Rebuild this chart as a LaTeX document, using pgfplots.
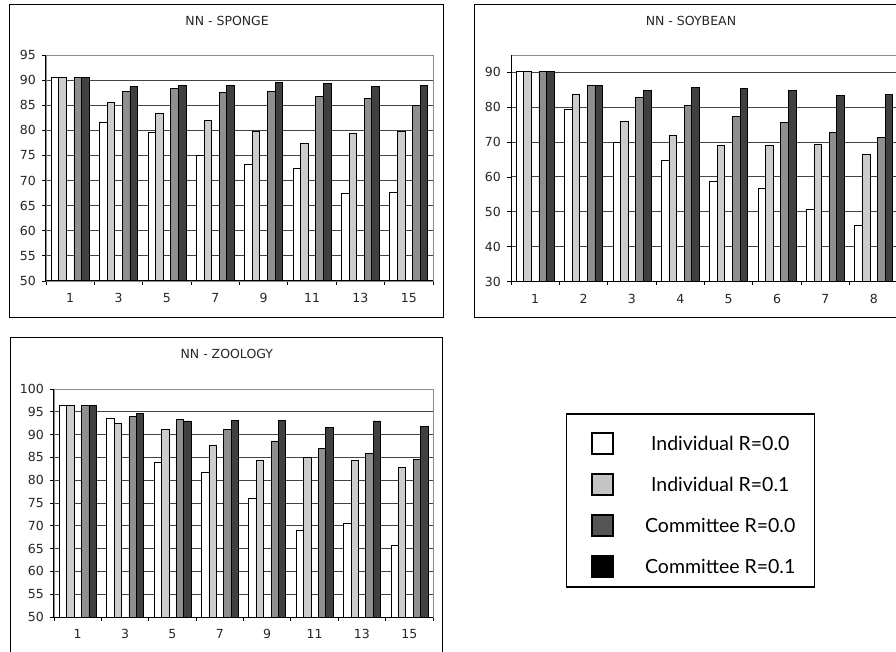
\documentclass[border=0pt]{standalone}
\usepackage{fontspec}
\setmainfont{DejaVu Sans}
\newfontfamily\legendfont{Lato}
\usepackage{pgfplots}
\pgfplotsset{compat=1.18}
\definecolor{barlight}{HTML}{CCCCCC}
\definecolor{barmed}{HTML}{8F8F8F}
\definecolor{bardark}{HTML}{404040}
\definecolor{leglight}{HTML}{C4C4C4}
\definecolor{legmed}{HTML}{555555}
\definecolor{gridc}{HTML}{444444}
\definecolor{framec}{HTML}{8C8C8C}

\pgfplotsset{
 panel/.style={
  scale only axis, anchor=south west,
  xmin=-0.5, xmax=7.5,
  xtick={-0.5,0.5,...,7.5}, xticklabels={,,,,,,,,,},
  extra x ticks={0,...,7},
  extra x tick style={major tick length=0pt, grid=none},
  extra y tick style={grid=none},
  tick align=outside, major tick length=4pt,
  tick pos=left,
  ymajorgrids, major grid style={gridc, line width=1pt},
  axis line style={framec, line width=0.9pt},
  tick style={black, line width=0.9pt},
  tick label style={font=\fontsize{12.5}{14}\selectfont, text=black!85},
  /pgf/number format/assume math mode=true,
  yticklabel style={inner sep=0pt, xshift=-6pt},
  xticklabel style={inner sep=0pt, yshift=-12.5pt},
  title style={font=\fontsize{12.5}{14}\selectfont, text=black!85, anchor=center, yshift=0pt, inner sep=0pt},
  after end axis/.code={\draw[black, line width=1pt] (rel axis cs:0,1) -- (rel axis cs:0,0) -- (rel axis cs:1,0);},
 },
 bars/.style={ybar, draw=black, line width=0.8pt},
}

\begin{document}
\begin{tikzpicture}
\useasboundingbox (0,0) rectangle (896pt,651pt);

% ---------- SPONGE ----------
\begin{axis}[panel, at={(46pt,370pt)}, width=387pt, height=226pt,
  ymin=50, ymax=95, ytick={50,55,...,90}, extra y ticks={95},
  extra x tick labels={1,3,5,7,9,11,13,15},
  title={NN - SPONGE}, title style={at={(axis description cs:0.468,1.1235)}}]
\addplot[bars, bar width=7.6pt, bar shift=-15.2pt, fill=white] coordinates
 {(0,90.5) (1,81.6) (2,79.6) (3,75.0) (4,73.2) (5,72.4) (6,67.5) (7,67.6)};
\addplot[bars, bar width=7.6pt, bar shift=-7.6pt, fill=barlight] coordinates
 {(0,90.5) (1,85.5) (2,83.4) (3,82.0) (4,79.7) (5,77.3) (6,79.4) (7,79.7)};
\addplot[bars, bar width=7.6pt, bar shift=7.6pt, fill=barmed] coordinates
 {(0,90.5) (1,87.7) (2,88.3) (3,87.6) (4,87.7) (5,86.8) (6,86.4) (7,85.0)};
\addplot[bars, bar width=7.6pt, bar shift=15.2pt, fill=bardark] coordinates
 {(0,90.5) (1,88.8) (2,89.0) (3,89.0) (4,89.6) (5,89.4) (6,88.8) (7,89.0)};
\end{axis}

% ---------- SOYBEAN ----------
\begin{axis}[panel, at={(511pt,369.5pt)}, width=387pt, height=226.5pt,
  ymin=30, ymax=95, ytick={30,40,...,90},
  extra x tick labels={1,2,3,4,5,6,7,8},
  title={NN - SOYBEAN}, title style={at={(axis description cs:0.465,1.1235)}}]
\addplot[bars, bar width=7.6pt, bar shift=-15.2pt, fill=white] coordinates
 {(0,90.4) (1,79.3) (2,69.8) (3,64.7) (4,58.8) (5,56.8) (6,50.7) (7,46.2)};
\addplot[bars, bar width=7.6pt, bar shift=-7.6pt, fill=barlight] coordinates
 {(0,90.4) (1,83.6) (2,75.9) (3,72.0) (4,69.0) (5,69.0) (6,69.3) (7,66.6)};
\addplot[bars, bar width=7.6pt, bar shift=7.6pt, fill=barmed] coordinates
 {(0,90.4) (1,86.2) (2,82.9) (3,80.5) (4,77.4) (5,75.6) (6,72.9) (7,71.3)};
\addplot[bars, bar width=7.6pt, bar shift=15.2pt, fill=bardark] coordinates
 {(0,90.4) (1,86.2) (2,84.8) (3,85.8) (4,85.4) (5,84.8) (6,83.4) (7,83.7)};
\end{axis}

% ---------- ZOOLOGY ----------
\begin{axis}[panel, at={(54pt,34pt)}, width=379pt, height=228pt,
  ymin=50, ymax=100, ytick={50,55,...,95}, extra y ticks={100},
  extra x tick labels={1,3,5,7,9,11,13,15},
  title={NN - ZOOLOGY}, title style={at={(axis description cs:0.456,1.1267)}},
  legend cell align=center,
  legend style={at={(axis description cs:1.3509,0.8947)}, anchor=north west,
    draw=black, line width=1.5pt, inner xsep=17pt, inner ysep=9pt,
    row sep=18pt, column sep=29pt,
    font=\legendfont\fontsize{19.5}{22}\selectfont, cells={anchor=center}}]
\addplot[bars, bar width=7.4pt, bar shift=-14.6pt, fill=white,
  legend image code/.code={\path (-8pt,20.5pt); \draw[line width=2pt, draw=black, fill=white] (0pt,-10.5pt) rectangle (21pt,10.5pt);}] coordinates
 {(0,96.3) (1,93.5) (2,83.8) (3,81.8) (4,76.0) (5,69.1) (6,70.6) (7,65.8)};
\addlegendentry{Individual R=0.0}
\addplot[bars, bar width=7.4pt, bar shift=-7.2pt, fill=barlight,
  legend image code/.code={\path (-8pt,0pt); \draw[line width=2pt, draw=black, fill=leglight] (0pt,-10.5pt) rectangle (21pt,10.5pt);}] coordinates
 {(0,96.3) (1,92.4) (2,91.2) (3,87.6) (4,84.4) (5,85.0) (6,84.4) (7,82.8)};
\addlegendentry{Individual R=0.1}
\addplot[bars, bar width=7.4pt, bar shift=7.6pt, fill=barmed,
  legend image code/.code={\path (-8pt,0pt); \draw[line width=2pt, draw=black, fill=legmed] (0pt,-10.5pt) rectangle (21pt,10.5pt);}] coordinates
 {(0,96.3) (1,93.9) (2,93.3) (3,91.2) (4,88.6) (5,87.0) (6,85.8) (7,84.6)};
\addlegendentry{Committee R=0.0}
\addplot[bars, bar width=7.4pt, bar shift=15.0pt, fill=bardark,
  legend image code/.code={\path (-8pt,0pt); \draw[line width=2pt, draw=black, fill=black] (0pt,-10.5pt) rectangle (21pt,10.5pt);}] coordinates
 {(0,96.3) (1,94.7) (2,93.0) (3,93.1) (4,93.1) (5,91.6) (6,93.0) (7,91.7)};
\addlegendentry{Committee R=0.1}
\end{axis}

% panel frames
\draw[black, line width=1pt] (9pt,333pt) rectangle (443pt,646pt);
\draw[black, line width=1pt] (474pt,333pt) rectangle (1000pt,646pt);
\draw[black, line width=1pt] (10.5pt,-20pt) rectangle (442pt,313pt);
\end{tikzpicture}
\end{document}
